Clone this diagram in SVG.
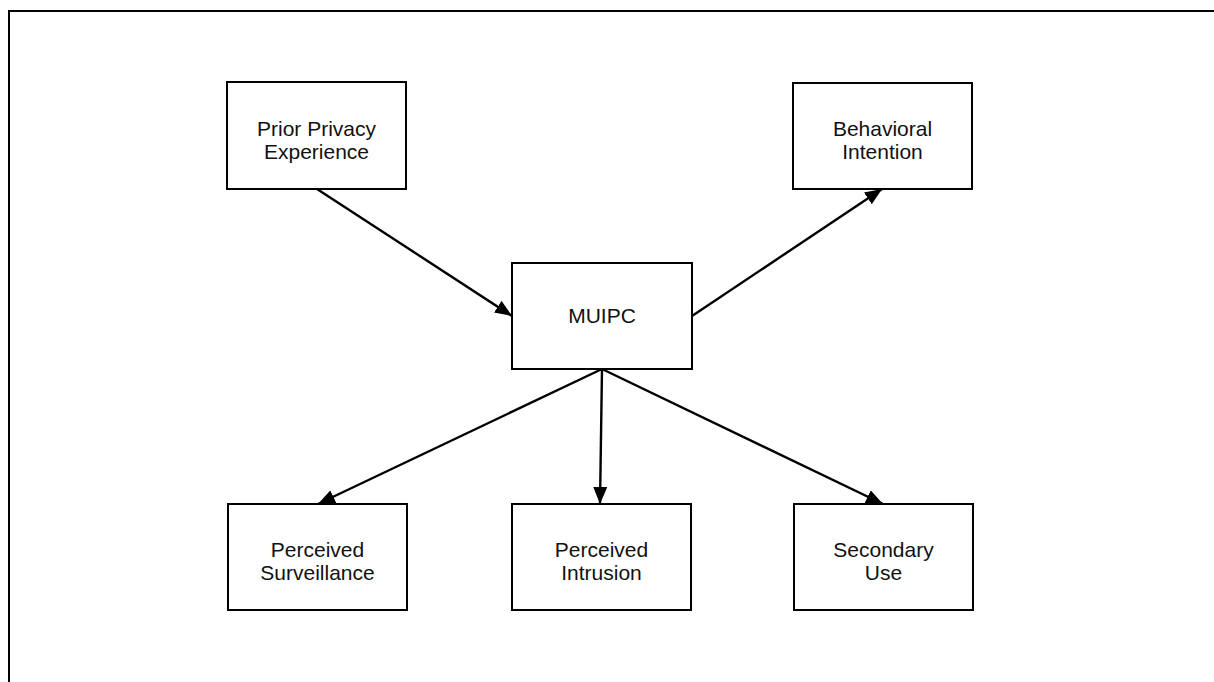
<svg xmlns="http://www.w3.org/2000/svg" width="1214" height="682" viewBox="0 0 1214 682">
  <style>
    .box { fill: #ffffff; stroke: #000000; stroke-width: 2; }
    .label { font-family: "Liberation Sans", Arial, sans-serif; font-size: 21px; fill: #111111; text-anchor: middle; }
    .edge { fill: none; stroke: #000000; stroke-width: 2.4; marker-end: url(#arrow); }
    .frame { fill: none; stroke: #000000; stroke-width: 2; }
  </style>
  <defs>
    <marker id="arrow" markerUnits="userSpaceOnUse" markerWidth="18" markerHeight="14" refX="17" refY="7" orient="auto">
      <path d="M0,0 L17,7 L0,14 z" fill="#000000"/>
    </marker>
  </defs>

  <rect width="1214" height="682" fill="#ffffff"/>
  <!-- outer frame, running past the right and bottom edges -->
  <rect class="frame" x="9" y="11" width="1220" height="690"/>

  <g id="connectors">
    <line class="edge" x1="317" y1="189" x2="512" y2="316"/>
    <line class="edge" x1="692" y1="316" x2="882" y2="189"/>
    <line class="edge" x1="602" y1="369" x2="318" y2="504"/>
    <line class="edge" x1="602" y1="369" x2="600" y2="504"/>
    <line class="edge" x1="602" y1="369" x2="883" y2="504"/>
  </g>

  <g id="prior-privacy-experience">
    <rect class="box" x="227" y="82" width="179" height="107"/>
    <text class="label" x="316.5" y="136">Prior Privacy</text>
    <text class="label" x="316.5" y="159">Experience</text>
  </g>

  <g id="behavioral-intention">
    <rect class="box" x="793" y="83" width="179" height="106"/>
    <text class="label" x="882.5" y="136">Behavioral</text>
    <text class="label" x="882.5" y="159">Intention</text>
  </g>

  <g id="muipc">
    <rect class="box" x="512" y="263" width="180" height="106"/>
    <text class="label" x="602" y="323">MUIPC</text>
  </g>

  <g id="perceived-surveillance">
    <rect class="box" x="228" y="504" width="179" height="106"/>
    <text class="label" x="317.5" y="557">Perceived</text>
    <text class="label" x="317.5" y="580">Surveillance</text>
  </g>

  <g id="perceived-intrusion">
    <rect class="box" x="512" y="504" width="179" height="106"/>
    <text class="label" x="601.5" y="557">Perceived</text>
    <text class="label" x="601.5" y="580">Intrusion</text>
  </g>

  <g id="secondary-use">
    <rect class="box" x="794" y="504" width="179" height="106"/>
    <text class="label" x="883.5" y="557">Secondary</text>
    <text class="label" x="883.5" y="580">Use</text>
  </g>
</svg>
